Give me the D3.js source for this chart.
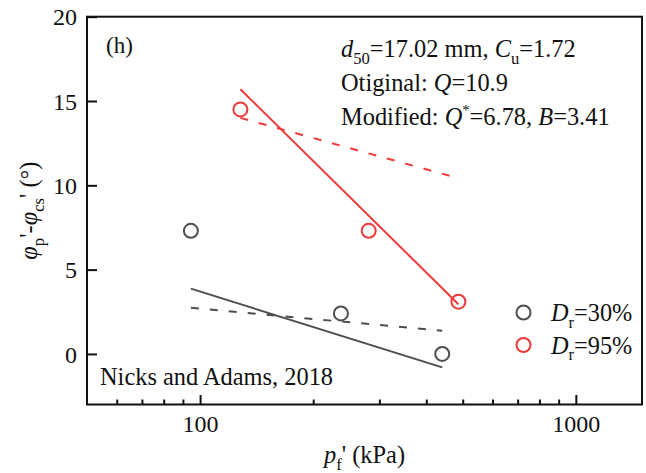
<!DOCTYPE html>
<html>
<head>
<meta charset="utf-8">
<script src="https://cdn.jsdelivr.net/npm/d3@7"></script>
<style>
  html, body { margin: 0; padding: 0; background: #fff; }
  svg { display: block; }
</style>
</head>
<body>
<svg id="chart" width="646" height="473" font-family="Liberation Serif"></svg>
<script>
// Measured peak-minus-critical-state friction angle against mean effective stress at failure
const pressure30 = [94.5, 237, 441];
const dphi30 = [7.3, 2.4, 0.0];
const pressure95 = [128, 281, 487];
const dphi95 = [14.5, 7.3, 3.1];

// Fitted relations: original (Q = 10.9, dashed) and modified (Q* = 6.78, B = 3.41, solid)
const fitPressure30 = [94.5, 441];
const originalFit30 = [2.74, 1.37];
const modifiedFit30 = [3.87, -0.8];
const fitPressure95 = [128, 487];
const originalFit95 = [14.0, 10.42];
const modifiedFit95 = [15.7, 2.95];

const yTicks = [0, 5, 10, 15, 20];
const xMajorTicks = [100, 1000];
const xMinorTicks = [60, 70, 80, 90, 200, 300, 400, 500, 600, 700, 800, 900];
const legendLabels = ["30%", "95%"];

const GRAY = "#4d4d4d";
const RED = "#ef3a3a";
const FONT = "Liberation Serif";

const svg = d3.select("#chart");
const plotLeft = 87, plotRight = 642, plotTop = 16.7, plotBottom = 404.5;

const x = d3.scaleLog().domain([50, 1500]).range([plotLeft, plotRight]);
const y = d3.scaleLinear().domain([-3, 20]).range([plotBottom, plotTop]);

// Rich text helper: segments of [text, kind], kind in n | i | sub | sup
function rich(sel, segs, size) {
  let shift = 0;
  sel.attr("font-family", FONT);
  segs.forEach(([t, k]) => {
    const ts = sel.append("tspan").text(t).attr("font-family", FONT);
    let target = 0, fs = size;
    if (k === "sub") { target = size * 0.28; fs = size * 0.68; }
    if (k === "sup") { target = -size * 0.42; fs = size * 0.6; }
    ts.attr("dy", target - shift).attr("font-size", fs);
    if (k === "i") ts.attr("font-style", "italic");
    shift = target;
  });
  return sel;
}

// Axes: ticks point into the plot
const xAxis = d3.axisBottom(x).tickValues(xMajorTicks).tickSize(-9.5).tickPadding(13)
  .tickFormat(d3.format("d"));
const gx = svg.append("g").attr("transform", `translate(0,${plotBottom})`).call(xAxis)
  .attr("font-family", FONT);
gx.select(".domain").remove();
gx.selectAll(".tick line").attr("stroke", "#111").attr("stroke-width", 2);
gx.selectAll(".tick text").attr("font-size", 24).attr("fill", "#111")
  .attr("font-family", FONT).attr("dy", "0.62em");

const xMinor = d3.axisBottom(x).tickValues(xMinorTicks).tickSize(-5).tickFormat("");
const gxm = svg.append("g").attr("transform", `translate(0,${plotBottom})`).call(xMinor);
gxm.select(".domain").remove();
gxm.selectAll(".tick line").attr("stroke", "#111").attr("stroke-width", 2);

const yAxis = d3.axisLeft(y).tickValues(yTicks).tickSize(-10).tickPadding(10);
const gy = svg.append("g").attr("transform", `translate(${plotLeft},0)`).call(yAxis)
  .attr("font-family", FONT);
gy.select(".domain").remove();
gy.selectAll(".tick line").attr("stroke", "#111").attr("stroke-width", 2);
gy.selectAll(".tick text").attr("font-size", 24).attr("fill", "#111")
  .attr("font-family", FONT).attr("dy", "0.34em");

// Frame
svg.append("rect").attr("x", plotLeft).attr("y", plotTop)
  .attr("width", plotRight - plotLeft).attr("height", plotBottom - plotTop)
  .attr("fill", "none").attr("stroke", "#111").attr("stroke-width", 2);

// Fit lines
const line = d3.line().x(d => x(d[0])).y(d => y(d[1]));
function fit(ps, vs, color, dashed) {
  svg.append("path").datum(ps.map((p, i) => [p, vs[i]]))
    .attr("d", line).attr("fill", "none").attr("stroke", color)
    .attr("stroke-width", 2).attr("stroke-dasharray", dashed ? "8,11" : null);
}
fit(fitPressure30, modifiedFit30, GRAY, false);
fit(fitPressure30, originalFit30, GRAY, true);
fit(fitPressure95, modifiedFit95, RED, false);
fit(fitPressure95, originalFit95, RED, true);

// Measured points
function points(ps, vs, color) {
  svg.append("g").selectAll("circle").data(ps.map((p, i) => [p, vs[i]])).join("circle")
    .attr("cx", d => x(d[0])).attr("cy", d => y(d[1])).attr("r", 7)
    .attr("fill", "none").attr("stroke", color).attr("stroke-width", 2);
}
points(pressure30, dphi30, GRAY);
points(pressure95, dphi95, RED);

// Legend
const legendColors = [GRAY, RED];
legendLabels.forEach((lab, i) => {
  const cy = 312.5 + i * 32.5;
  svg.append("circle").attr("cx", 523.5).attr("cy", cy).attr("r", 7)
    .attr("fill", "none").attr("stroke", legendColors[i]).attr("stroke-width", 2);
  const t = svg.append("text").attr("x", 551).attr("y", cy + 8.5).attr("fill", "#111");
  rich(t, [["D", "i"], ["r", "sub"], ["=" + lab, "n"]], 24.3);
});

// Annotations
svg.append("text").attr("x", 106).attr("y", 53).attr("font-size", 23)
  .attr("font-family", FONT).attr("fill", "#111").text("(h)");

const info = [
  [["d", "i"], ["50", "sub"], ["=17.02 mm, ", "n"], ["C", "i"], ["u", "sub"], ["=1.72", "n"]],
  [["Otiginal: ", "n"], ["Q", "i"], ["=10.9", "n"]],
  [["Modified: ", "n"], ["Q", "i"], ["*", "sup"], ["=6.78, ", "n"], ["B", "i"], ["=3.41", "n"]]
];
info.forEach((segs, i) => {
  const t = svg.append("text").attr("x", 341).attr("y", 57 + i * 34).attr("fill", "#111");
  rich(t, segs, 24.4);
});

svg.append("text").attr("x", 100).attr("y", 385).attr("font-size", 24.4)
  .attr("font-family", FONT).attr("fill", "#111").text("Nicks and Adams, 2018");

// Axis titles
const xt = svg.append("text").attr("x", (plotLeft + plotRight) / 2).attr("y", 463)
  .attr("text-anchor", "middle").attr("fill", "#111");
rich(xt, [["p", "i"], ["f", "sub"], ["' (kPa)", "n"]], 24.4);

const yt = svg.append("text").attr("transform", `translate(37,${(plotTop + plotBottom) / 2}) rotate(-90)`)
  .attr("text-anchor", "middle").attr("fill", "#111");
rich(yt, [["φ", "i"], ["p", "sub"], ["'-", "n"], ["φ", "i"], ["cs", "sub"], ["' (°)", "n"]], 24.4);
</script>
</body>
</html>
